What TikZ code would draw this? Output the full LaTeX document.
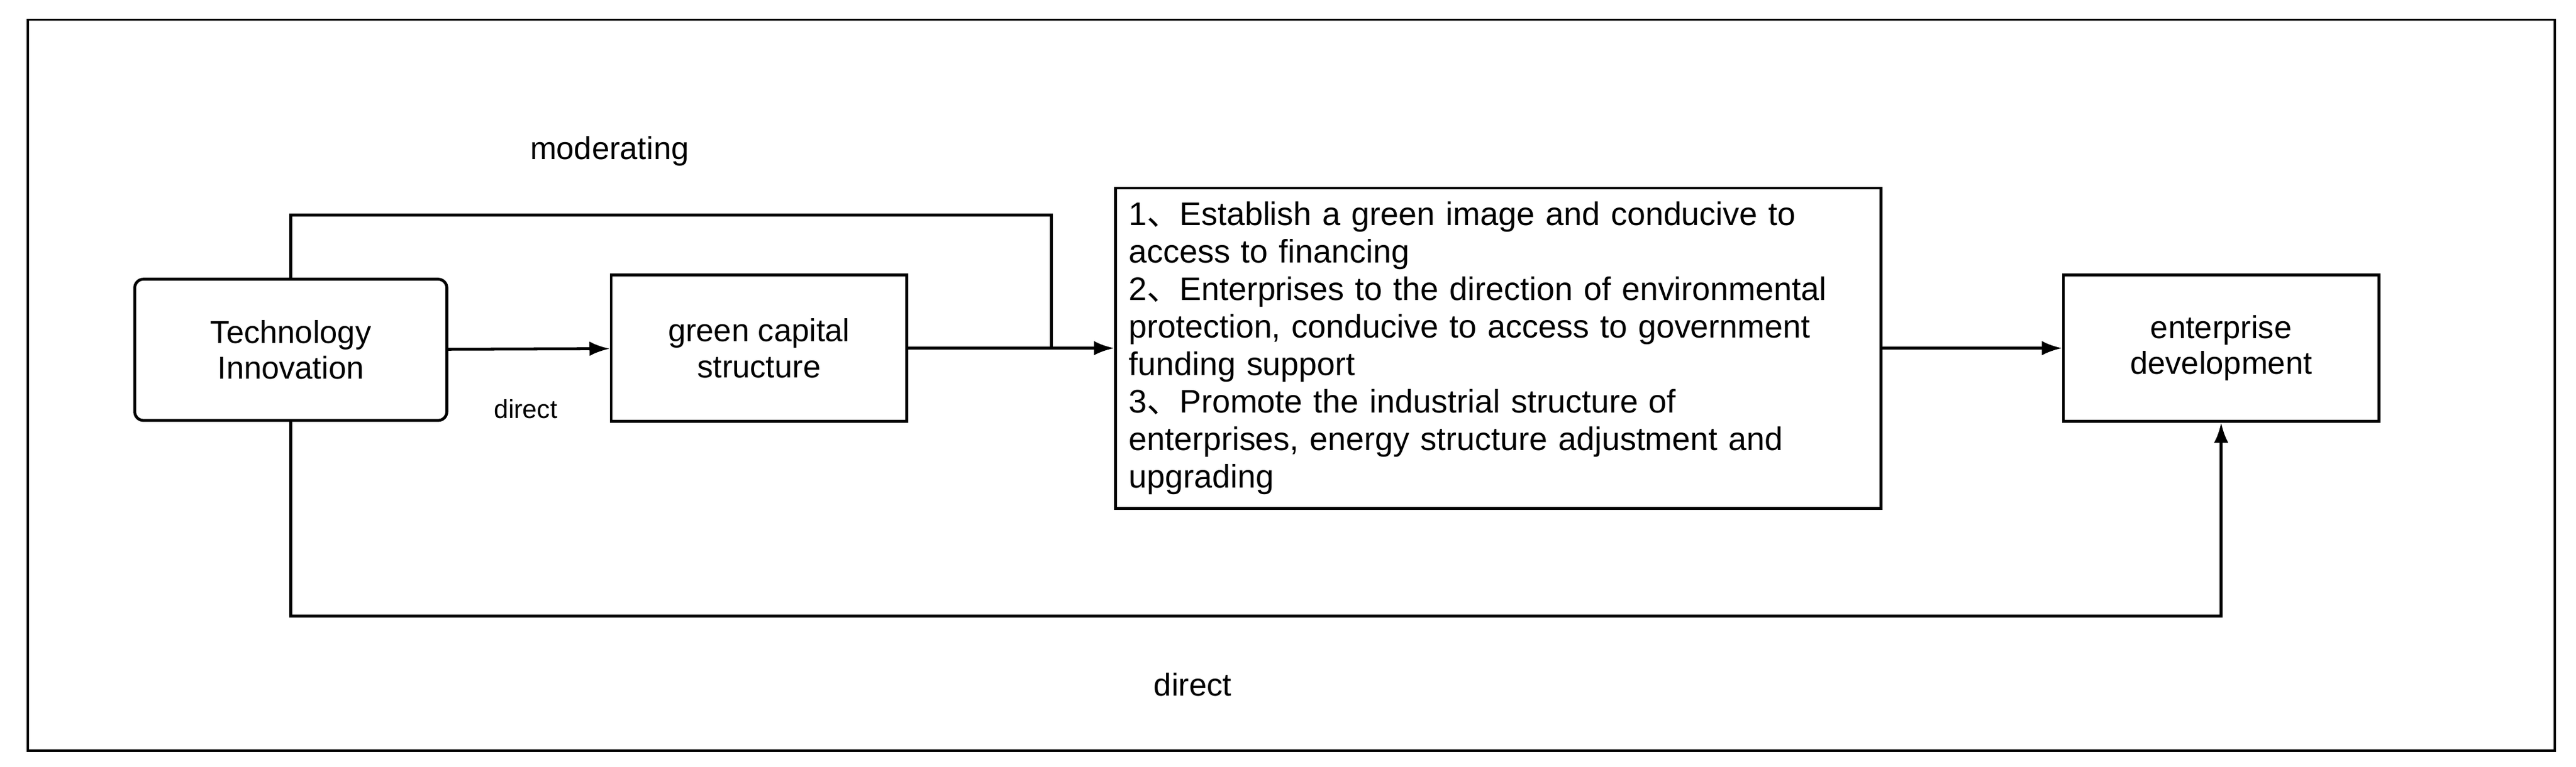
\documentclass[tikz,border=0pt]{standalone}
\usepackage{fontspec}
\setmainfont{Liberation Sans}
\newfontfamily\cjk{Noto Sans CJK SC}
\newcommand{\dun}{{\cjk 、}}
\usetikzlibrary{arrows.meta}
\begin{document}
\begin{tikzpicture}[x=0.02cm,y=-0.02cm,thick,
    box/.style={draw,line width=1pt,font=\fontsize{11}{12.5}\selectfont,align=center,inner sep=0pt},
    link/.style={line width=1pt,-{Latex[length=7pt,width=5pt]}},
    lbl/.style={font=\fontsize{11}{12.5}\selectfont}]
    \useasboundingbox (0,0) rectangle (1568,467);
    \draw[line width=0.8pt] (17,12) rectangle (1555,457);

    \node[box, rounded corners=3pt, minimum width=3.8cm, minimum height=1.72cm] at (177,213) (tech) {Technology\\Innovation};
    \node[box, minimum width=3.6cm, minimum height=1.78cm] at (462,212) (green) {green capital\\structure};
    \node[box, minimum width=9.32cm, minimum height=3.9cm, align=left, text width=9.0cm,
          font=\fontsize{11.3}{13}\selectfont] at (912,212) (ways)
        {1\dun Establish a green image and conducive to\\ access to financing\\
         2\dun Enterprises to the direction of environmental\\ protection, conducive to access to government\\ funding support\\
         3\dun Promote the industrial structure of\\ enterprises, energy structure adjustment and\\ upgrading};
    \node[box, minimum width=3.84cm, minimum height=1.78cm] at (1352,212) (dev) {enterprise\\development};
    \coordinate (join) at (640,212);

    \draw[link] (tech) -- (green);
    \draw[link] (green) -- (ways);
    \draw[link] (ways) -- (dev);
    \draw[line width=1pt] (tech.north) |- (640,131) -- (join);
    \draw[link] (tech.south) |- (1352,375) -- (dev.south);

    \node[lbl] at (371,92) (modlbl) {moderating};
    \node[lbl, font=\fontsize{9}{11}\selectfont] at (320,249) (dirlbl) {direct};
    \node[lbl] at (726,417) (dir2lbl) {direct};
\end{tikzpicture}
\end{document}
